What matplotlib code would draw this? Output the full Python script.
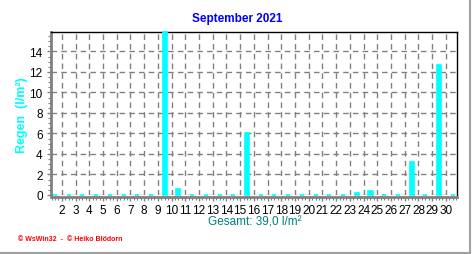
import matplotlib
matplotlib.use("Agg")
import matplotlib.pyplot as plt
from matplotlib.ticker import MultipleLocator
from matplotlib.lines import Line2D

# Tagesniederschlag September 2021
days = list(range(1, 31))
rain = [0, 0, 0, 0, 0, 0, 0, 0, 15.9, 0.6,
        0, 0, 0, 0, 6.0, 0, 0, 0, 0, 0,
        0, 0, 0.2, 0.4, 0, 0, 3.2, 0, 12.7, 0]
tick_days = days[1:]
title = "September 2021"
ylabel = "Regen  (l/m²)"
total_text = "Gesamt: 39,0 l/m²"
credit = "© WsWin32  -  © Heiko Blödorn"

plt.rcParams['font.family'] = ['Liberation Sans', 'DejaVu Sans']

W, H = 472, 255
fig = plt.figure(figsize=(W / 100, H / 100), dpi=100)
ax = fig.add_axes([51 / W, 59 / H, 406 / W, 163 / H])

bars = ax.bar(days, rain, width=0.3, color='#00ffff', edgecolor='#00ffff', linewidth=1.2, zorder=3)
for b in bars:
    b.set_clip_on(False)  # damit die 0-Balken als Strich sichtbar bleiben

ax.set_xlim(0.71, 30.31)
ax.set_ylim(0, 15.9)

# Gitter: Linien zwischen den Tagen
ax.set_xticks([d - 0.5 for d in tick_days])
ax.set_xticklabels([str(d) for d in tick_days])
ax.set_yticks(range(0, 16, 2))
ax.xaxis.set_minor_locator(MultipleLocator(0.25))
ax.yaxis.set_minor_locator(MultipleLocator(0.5))
ax.grid(True, which='major', color='#808080', linestyle=(0, (4, 3)), linewidth=1, zorder=0)

ax.tick_params(axis='both', which='major', labelsize=8.5, colors='#808080',
               labelcolor='black', length=3, width=1)
ax.tick_params(axis='x', which='major', pad=2)
ax.tick_params(axis='y', which='major', pad=3)
ax.tick_params(axis='both', which='minor', colors='#808080', length=2, width=0.8)

for s in ['left', 'bottom']:
    ax.spines[s].set_color('#808080')
    ax.spines[s].set_linewidth(2)
ax.spines['bottom'].set_position(('outward', 1.5))
for s in ['top', 'right']:
    ax.spines[s].set_color('black')
    ax.spines[s].set_linewidth(1)

fig.text(237 / W, 1 - 19 / H, title, color='#0000ff', fontsize=8.5,
         fontweight='bold', ha='center', va='center')
fig.text(22 / W, 1 - 115 / H, ylabel, color='#00ffff', fontsize=9, fontweight='bold',
         rotation=90, ha='center', va='center')
fig.text(255 / W, 1 - 223 / H, total_text, color='#008080', fontsize=8.5,
         ha='center', va='center')
fig.text(18 / W, 1 - 240 / H, credit, color='red', fontsize=5, fontweight='bold',
         ha='left', va='center')

# Rahmen rechts und unten
fig.add_artist(Line2D([0, 470 / W], [1 - 253.5 / H] * 2, color='#a0a0a0', linewidth=1.5))
fig.add_artist(Line2D([470 / W] * 2, [1 - 253.5 / H, 1], color='#a0a0a0', linewidth=1.5))

fig.savefig('out.png', dpi=100, facecolor='white')
